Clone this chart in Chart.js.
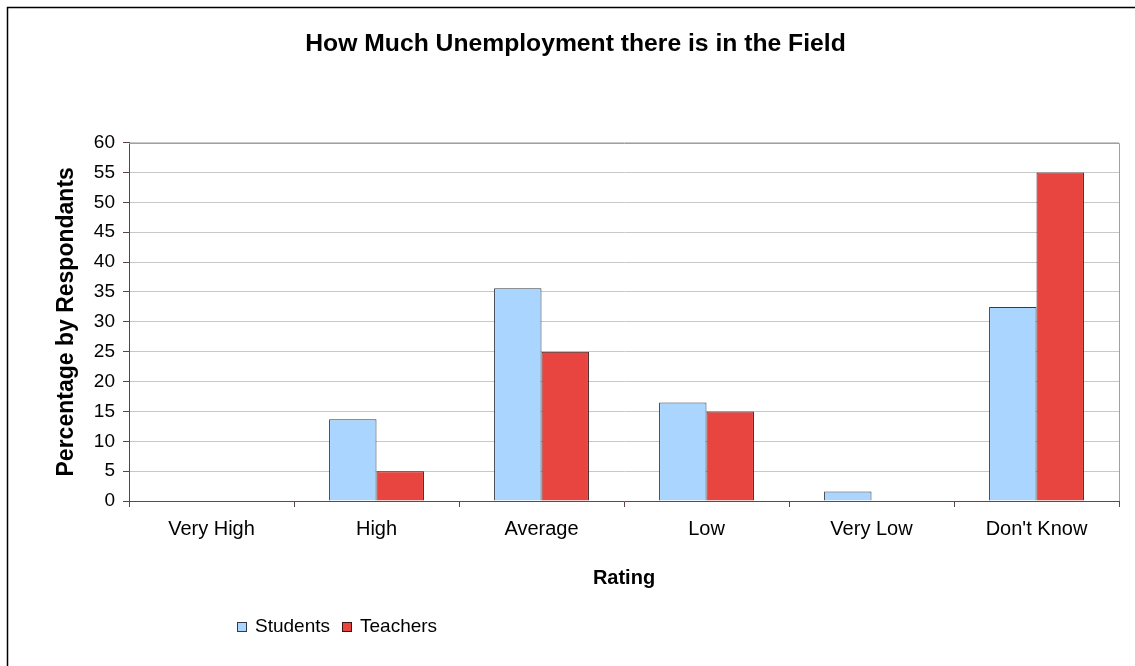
<!DOCTYPE html>
<html>
<head>
<meta charset="utf-8">
<script src="https://cdn.jsdelivr.net/npm/chart.js@4.4.1/dist/chart.umd.min.js"></script>
<style>
  html, body { margin: 0; padding: 0; background: #ffffff; }
  #wrap { width: 1135px; height: 666px; position: relative; }
</style>
</head>
<body>
<div id="wrap"><canvas id="chart" width="1135" height="666"></canvas></div>
<script>
// Survey results: share of respondents per rating
const categories = ['Very High', 'High', 'Average', 'Low', 'Very Low', "Don't Know"];
const studentValues = [0, 13.7, 35.6, 16.5, 1.6, 32.5];
const teacherValues = [0, 5, 25, 15, 0, 55];
const seriesNames = ['Students', 'Teachers'];
const yTickMin = 0;
const yTickMax = 60;
const yTickStep = 5;

const FONT = "'Liberation Sans', Arial, Helvetica, sans-serif";
const STUDENT_FILL = '#aad5ff';
const STUDENT_EDGE = '#333d48';
const TEACHER_FILL = '#e84541';
const TEACHER_EDGE = '#3e1414';

// White background with an outer frame, plus the grey top/right edge of the plot
const framePlugin = {
  id: 'frame',
  beforeDraw(chart) {
    const ctx = chart.ctx;
    ctx.save();
    ctx.fillStyle = '#ffffff';
    ctx.fillRect(0, 0, chart.width, chart.height);
    ctx.strokeStyle = '#000000';
    ctx.lineWidth = 1.5;
    ctx.strokeRect(7.5, 7.5, chart.width + 20, chart.height + 20);
    ctx.restore();
  },
  afterDatasetsDraw(chart) {
    const a = chart.chartArea;
    const ctx = chart.ctx;
    ctx.save();
    ctx.strokeStyle = '#a0a0a0';
    ctx.lineWidth = 1;
    ctx.beginPath();
    ctx.moveTo(a.left, Math.round(a.top) + 0.5);
    ctx.lineTo(Math.round(a.right) + 0.5, Math.round(a.top) + 0.5);
    ctx.lineTo(Math.round(a.right) + 0.5, a.bottom);
    ctx.stroke();
    ctx.restore();
  }
};

// Legend drawn below the axis title, left-aligned
const legendPlugin = {
  id: 'bottomLegend',
  afterDraw(chart) {
    const ctx = chart.ctx;
    ctx.save();
    ctx.font = '19px ' + FONT;
    ctx.textBaseline = 'middle';
    let x = 237;
    const yMid = 627;
    chart.data.datasets.forEach((ds) => {
      ctx.fillStyle = ds.backgroundColor;
      ctx.fillRect(x, yMid - 5, 10, 10);
      ctx.strokeStyle = ds.borderColor;
      ctx.lineWidth = 1;
      ctx.strokeRect(x + 0.5, yMid - 4.5, 9, 9);
      ctx.fillStyle = '#000000';
      ctx.fillText(ds.label, x + 18, yMid);
      x += 18 + ctx.measureText(ds.label).width + 12;
    });
    ctx.restore();
  }
};

new Chart(document.getElementById('chart'), {
  type: 'bar',
  data: {
    labels: categories,
    datasets: [
      {
        label: seriesNames[0],
        data: studentValues,
        backgroundColor: STUDENT_FILL,
        borderColor: STUDENT_EDGE,
        borderWidth: 1,
        borderSkipped: 'bottom'
      },
      {
        label: seriesNames[1],
        data: teacherValues,
        backgroundColor: TEACHER_FILL,
        borderColor: TEACHER_EDGE,
        borderWidth: 1,
        borderSkipped: 'bottom'
      }
    ]
  },
  options: {
    responsive: false,
    animation: false,
    devicePixelRatio: 1,
    layout: { padding: { left: 32, right: 16, top: 0, bottom: 0 } },
    datasets: {
      bar: { categoryPercentage: 0.575, barPercentage: 1.0 }
    },
    plugins: {
      legend: { display: false },
      tooltip: { enabled: false },
      title: {
        display: true,
        text: 'How Much Unemployment there is in the Field',
        color: '#000000',
        font: { family: FONT, size: 24.7, weight: 'bold' },
        padding: { top: 29, bottom: 84 }
      }
    },
    scales: {
      x: {
        grid: {
          display: true,
          offset: true,
          drawOnChartArea: false,
          drawTicks: true,
          tickLength: 6,
          tickColor: '#5a4444'
        },
        border: { display: true, color: '#6b4545', width: 1 },
        ticks: {
          color: '#000000',
          padding: 10,
          maxRotation: 0,
          font: { family: FONT, size: 20 }
        },
        title: {
          display: true,
          text: 'Rating',
          color: '#000000',
          font: { family: FONT, size: 20, weight: 'bold' },
          padding: 76
        },
        afterFit(scale) { scale.height = 165; }
      },
      y: {
        min: yTickMin,
        max: yTickMax,
        grid: {
          color: '#c8c8c8',
          lineWidth: 1,
          drawTicks: true,
          tickLength: 6,
          tickColor: '#5a4444'
        },
        border: { display: true, color: '#5a4444', width: 1 },
        ticks: {
          stepSize: yTickStep,
          color: '#000000',
          padding: 8,
          font: { family: FONT, size: 19 }
        },
        title: {
          display: true,
          text: 'Percentage by Respondants',
          color: '#000000',
          font: { family: FONT, size: 23, weight: 'bold' },
          padding: 21
        },
        afterFit(scale) { scale.width = 97; }
      }
    }
  },
  plugins: [framePlugin, legendPlugin]
});
</script>
</body>
</html>
